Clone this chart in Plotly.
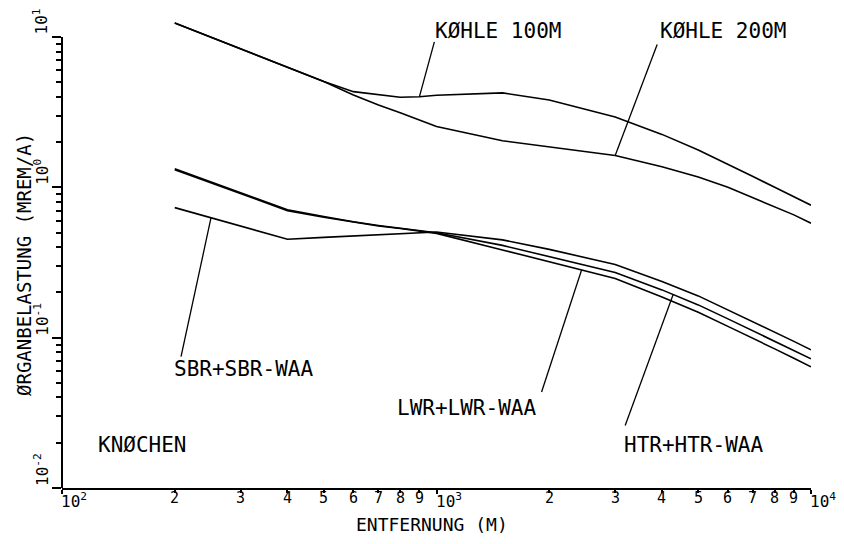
import numpy as np
import plotly.graph_objects as go

# ---------------- data ----------------
distance_m = [200, 300, 400, 500, 600, 700, 800, 900, 1000, 1500, 2000,
              3000, 4000, 5000, 6000, 7000, 8000, 9000, 10000]
kohle_100m = [12.4, 8.3, 6.28, 5.05, 4.33, 4.11, 3.97, 4.0, 4.1, 4.25, 3.81,
              2.94, 2.25, 1.77, 1.43, 1.18, 1.0, 0.866, 0.76]
kohle_200m = [12.4, 8.3, 6.28, 5.05, 4.11, 3.53, 3.14, 2.81, 2.54, 2.04, 1.86,
              1.63, 1.37, 1.17, 1.0, 0.855, 0.745, 0.656, 0.577]
sbr_sbr_waa = [0.733, 0.553, 0.452, 0.465, 0.475, 0.485, 0.495, 0.503, 0.505, 0.447, 0.3865,
               0.307, 0.2367, 0.1896, 0.1531, 0.1274, 0.1093, 0.0945, 0.083]
htr_htr_waa = [1.33, 0.92, 0.71, 0.64, 0.59, 0.558, 0.536, 0.516, 0.499, 0.411, 0.347,
               0.2717, 0.2079, 0.1652, 0.1334, 0.111, 0.0952, 0.0824, 0.0723]
lwr_lwr_waa = [1.31, 0.905, 0.70, 0.633, 0.585, 0.553, 0.532, 0.512, 0.494, 0.3835, 0.319,
               0.2479, 0.1867, 0.1474, 0.1189, 0.0982, 0.0842, 0.0729, 0.0639]

x_minor_ticks = [200, 300, 400, 500, 600, 700, 800, 900,
                 2000, 3000, 4000, 5000, 6000, 7000, 8000, 9000]
x_minor_labels = ["2", "3", "4", "5", "6", "7", "8", "9",
                  "2", "3", "4", "5", "6", "7", "8", "9"]
x_major_exponents = [2, 3, 4]
y_major_exponents = [-2, -1, 0, 1]
y_minor_ticks = [m * 10.0 ** e for e in (-2, -1, 0) for m in range(2, 10)]

x_title = "ENTFERNUNG (M)"
y_title = "ØRGANBELASTUNG (MREM/A)"
series_labels = ["KØHLE 100M", "KØHLE 200M", "SBR+SBR-WAA", "LWR+LWR-WAA", "HTR+HTR-WAA"]
organ_label = "KNØCHEN"

# ---------------- layout geometry ----------------
# the page body has an 8 px margin, so the figure is 16 px smaller than the window
OFF = 8
W, H = 844 - 2 * OFF, 544 - 2 * OFF
ML = 62 - OFF
MR = W - (811 - OFF)
MT = 18 - OFF
MB = H - (488 - OFF)
PW, PH = W - ML - MR, H - MT - MB
X_RANGE = [2, 4]
Y_TOP = 1 + ((37 - OFF) - MT) / (((488 - OFF) - (37 - OFF)) / 3.0)
Y_RANGE = [-2, Y_TOP]

FONT = "DejaVu Sans Mono"
BLACK = "#000000"


def pxx(px):
    """reference window x pixel -> paper fraction"""
    return (px - OFF - ML) / PW


def pxy(py):
    """reference window y pixel -> paper fraction"""
    return (H - MB - (py - OFF)) / PH


def log_at(series, d):
    return float(np.interp(np.log10(d), np.log10(distance_m), np.log10(series)))


def paper_x_of(d):
    return (np.log10(d) - X_RANGE[0]) / (X_RANGE[1] - X_RANGE[0])


def paper_y_of_log(lv):
    return (lv - Y_RANGE[0]) / (Y_RANGE[1] - Y_RANGE[0])


fig = go.Figure()
for ys in (kohle_100m, kohle_200m, sbr_sbr_waa, htr_htr_waa, lwr_lwr_waa):
    fig.add_trace(go.Scatter(x=distance_m, y=ys, mode="lines",
                             line=dict(color=BLACK, width=1.6),
                             showlegend=False, hoverinfo="skip"))

shapes = [dict(type="line", xref="paper", yref="paper", x0=0, x1=0, y0=0,
               y1=paper_y_of_log(1), line=dict(color=BLACK, width=2))]

# leader lines: head on the curve (from the data), tail offset in pixels towards the label
leaders = [
    (kohle_100m, 900, 15, -55),
    (kohle_200m, 3000, 42, -111),
    (sbr_sbr_waa, 250, -30, 139),
    (lwr_lwr_waa, 2440, -40, 122),
    (htr_htr_waa, 4285, -48, 131),
]
for ser, d, ax, ay in leaders:
    hx = paper_x_of(d)
    hy = paper_y_of_log(log_at(ser, d))
    shapes.append(dict(type="line", xref="paper", yref="paper",
                       x0=hx, y0=hy, x1=hx + ax / PW, y1=hy - ay / PH,
                       line=dict(color=BLACK, width=1.3)))

ann = []
label_pos = [(498, 31), (723, 31), (243, 369), (466, 408), (693, 445)]
for txt, (cx, cy) in zip(series_labels, label_pos):
    ann.append(dict(x=pxx(cx), y=pxy(cy), xref="paper", yref="paper", text=txt,
                    showarrow=False, xanchor="center", yanchor="middle",
                    font=dict(family=FONT, size=21, color=BLACK)))
ann.append(dict(x=pxx(142), y=pxy(445), xref="paper", yref="paper", text=organ_label,
                showarrow=False, xanchor="center", yanchor="middle",
                font=dict(family=FONT, size=21, color=BLACK)))

# axis titles
ann.append(dict(x=pxx(432), y=pxy(524), xref="paper", yref="paper", text=x_title,
                showarrow=False, xanchor="center", yanchor="middle",
                font=dict(family=FONT, size=18, color=BLACK)))
ann.append(dict(x=pxx(24), y=pxy(265), xref="paper", yref="paper", text=y_title,
                showarrow=False, xanchor="center", yanchor="middle", textangle=-90,
                font=dict(family=FONT, size=19, color=BLACK)))

# x tick labels: digits centred under the minor ticks
for t, lab in zip(x_minor_ticks, x_minor_labels):
    ann.append(dict(x=np.log10(t), y=0, xref="x", yref="paper", text=lab,
                    showarrow=False, xanchor="center", yanchor="top", yshift=1,
                    font=dict(family=FONT, size=15, color=BLACK)))
# major tick labels (10^n), drawn starting at the tick as in the reference
for e in x_major_exponents:
    ann.append(dict(x=e, y=0, xref="x", yref="paper", text=f"10<sup>{e}</sup>",
                    showarrow=False, xanchor="left", yanchor="top", yshift=0, xshift=-3,
                    font=dict(family=FONT, size=16, color=BLACK)))
for e in y_major_exponents:
    ann.append(dict(x=0, y=e, xref="paper", yref="y", text=f"10<sup>{e}</sup>",
                    showarrow=False, xanchor="right", yanchor="bottom", xshift=-8,
                    textangle=-90, font=dict(family=FONT, size=16, color=BLACK)))

fig.update_layout(
    template="none",
    width=W, height=H,
    margin=dict(l=ML, r=MR, t=MT, b=MB, pad=0),
    paper_bgcolor="white", plot_bgcolor="white",
    showlegend=False,
    annotations=ann,
    shapes=shapes,
    font=dict(family=FONT, color=BLACK),
)
fig.update_xaxes(
    type="log", range=X_RANGE, showgrid=False, zeroline=False,
    showline=True, linecolor=BLACK, linewidth=2, automargin=False,
    showticklabels=False,
    tickvals=x_minor_ticks,
    ticks="outside", ticklen=3, tickwidth=1.5, tickcolor=BLACK,
    minor=dict(tickvals=[10 ** e for e in x_major_exponents], ticks="outside",
               ticklen=4, tickwidth=1.5, tickcolor=BLACK, showgrid=False),
)
fig.update_yaxes(
    type="log", range=Y_RANGE, showgrid=False, zeroline=False,
    showline=False, automargin=False, showticklabels=False,
    tickvals=[10.0 ** e for e in y_major_exponents],
    ticks="outside", ticklen=9, tickwidth=1.5, tickcolor=BLACK,
    minor=dict(tickvals=y_minor_ticks, ticks="outside", ticklen=5,
               tickwidth=1.5, tickcolor=BLACK, showgrid=False),
)

fig.write_html("out.html")
